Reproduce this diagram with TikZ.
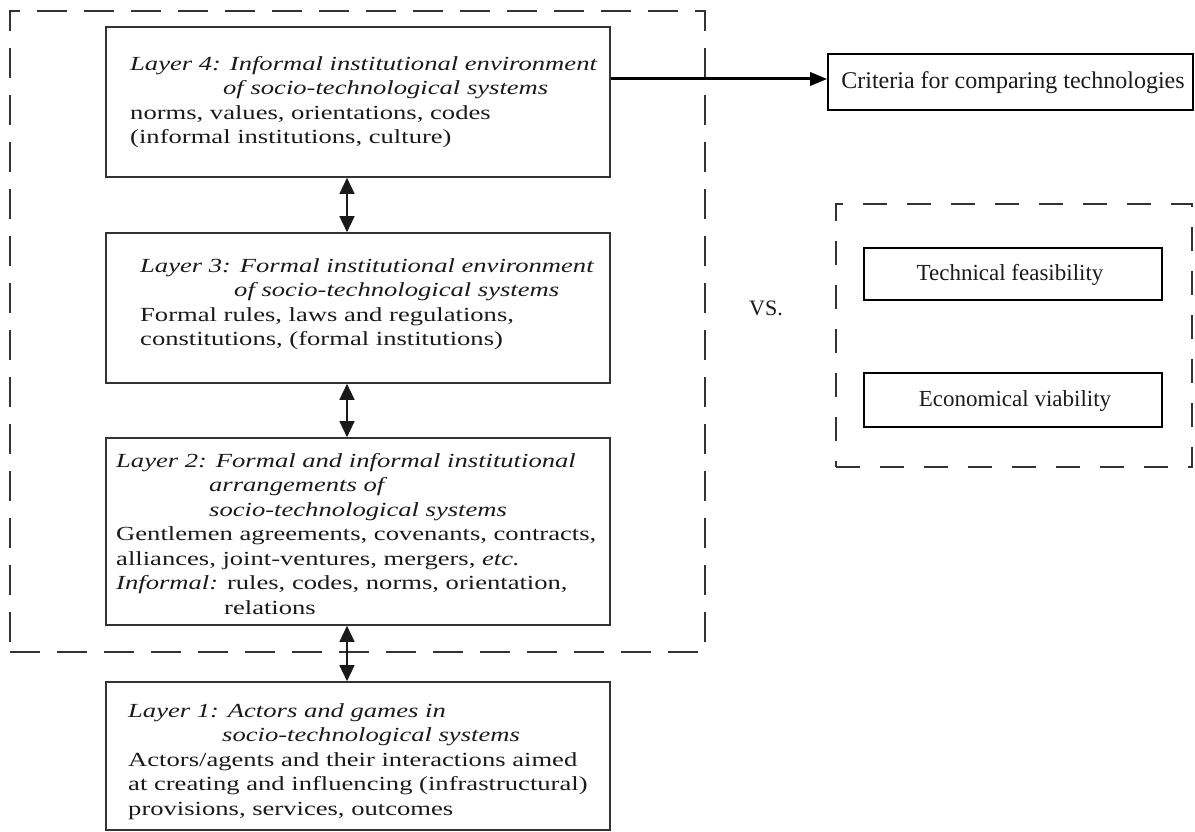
\documentclass[tikz,border=0pt]{standalone}
\usepackage{fontspec}
\setmainfont[FakeStretch=1.33]{Liberation Serif}
\newfontfamily\rfont{Liberation Serif}
\usetikzlibrary{arrows.meta}
\definecolor{ink}{HTML}{1A1A1A}
\definecolor{edge}{HTML}{333333}
\tikzset{
  box/.style={draw=edge, line width=1.6pt, inner sep=0pt, rectangle},
  dashbox/.style={draw=edge, line width=1.5pt, inner sep=0pt, rectangle, dash pattern=on 30pt off 17pt},
  rdashbox/.style={draw=edge, line width=1.5pt, inner sep=0pt, rectangle, dash pattern=on 24pt off 20pt},
  txt/.style={anchor=north west, inner sep=0pt, align=left, text=ink, font=\fontsize{20}{24.5}\selectfont},
  rtxt/.style={text=ink, inner sep=0pt, font=\rfont\fontsize{23}{27}\selectfont},
  dbl/.style={{Triangle[width=15pt,length=16pt]}-{Triangle[width=15pt,length=16pt]}, line width=1.4pt, draw=ink},
  big/.style={-{Triangle[width=13pt,length=17pt]}, line width=3pt, draw=black}
}
\begin{document}
\begin{tikzpicture}[x=1pt,y=-1pt]
\useasboundingbox (0,0) rectangle (1195,832);
% outer dashed
\node[dashbox, minimum width=695pt, minimum height=641pt] (outer) at (357.5,331.5) {};
% layer boxes
\node[box, minimum width=504pt, minimum height=150pt] (L4) at (358,102) {};
\node[box, minimum width=504pt, minimum height=150pt] (L3) at (358,308) {};
\node[box, minimum width=504pt, minimum height=187pt] (L2) at (358,531.5) {};
\node[box, minimum width=504pt, minimum height=148pt] (L1) at (358,756) {};
% texts
\node[txt] (L4t) at (130,53) {\strut\textit{Layer 4: Informal institutional environment}\\
\strut\hspace*{93pt}\textit{of socio-technological systems}\\
\strut norms, values, orientations, codes\\
\strut(informal institutions, culture)};
\node[txt] (L3t) at (140,255) {\strut\textit{Layer 3: Formal institutional environment}\\
\strut\hspace*{94pt}\textit{of socio-technological systems}\\
\strut Formal rules, laws and regulations,\\
\strut constitutions, (formal institutions)};
\node[txt] (L2t) at (116,450) {\strut\textit{Layer 2: Formal and informal institutional}\\
\strut\hspace*{93pt}\textit{arrangements of}\\
\strut\hspace*{93pt}\textit{socio-technological systems}\\
\strut Gentlemen agreements, covenants, contracts,\\
\strut alliances, joint-ventures, mergers, \textit{etc.}\\
\strut\textit{Informal:} rules, codes, norms, orientation,\\
\strut\hspace*{108pt}relations};
\node[txt] (L1t) at (128,700) {\strut\textit{Layer 1: Actors and games in}\\
\strut\hspace*{94pt}\textit{socio-technological systems}\\
\strut Actors/agents and their interactions aimed\\
\strut at creating and influencing (infrastructural)\\
\strut provisions, services, outcomes};
% vertical arrows
\draw[dbl] ([xshift=-11pt]L4.south) -- ([xshift=-11pt]L3.north);
\draw[dbl] ([xshift=-11pt]L3.south) -- ([xshift=-11pt]L2.north);
\draw[dbl] ([xshift=-11pt]L2.south) -- ([xshift=-11pt]L1.north);
% criteria
\node[box, draw=black, minimum width=365pt, minimum height=56pt] (crit) at (1010.5,82) {};
\node[rtxt, font=\rfont\fontsize{24}{28}\selectfont] (critt) at (1013,83) {Criteria for comparing technologies};
\draw[big] ([yshift=3pt]crit.west -| L4.east) -- ([yshift=3pt]crit.west);
% right dashed group
\node[rdashbox, minimum width=356pt, minimum height=263pt] (right) at (1014,335.5) {};
\node[box, draw=black, minimum width=298pt, minimum height=52pt] (tech) at (1013,274) {};
\node[rtxt] (techt) at (1010,275) {Technical feasibility};
\node[box, draw=black, minimum width=298pt, minimum height=54pt] (econ) at (1013,400) {};
\node[rtxt] (econt) at (1015,401) {Economical viability};
\node[rtxt, font=\rfont\fontsize{22}{26}\selectfont] (vs) at (766,308) {VS.};
\end{tikzpicture}
\end{document}
